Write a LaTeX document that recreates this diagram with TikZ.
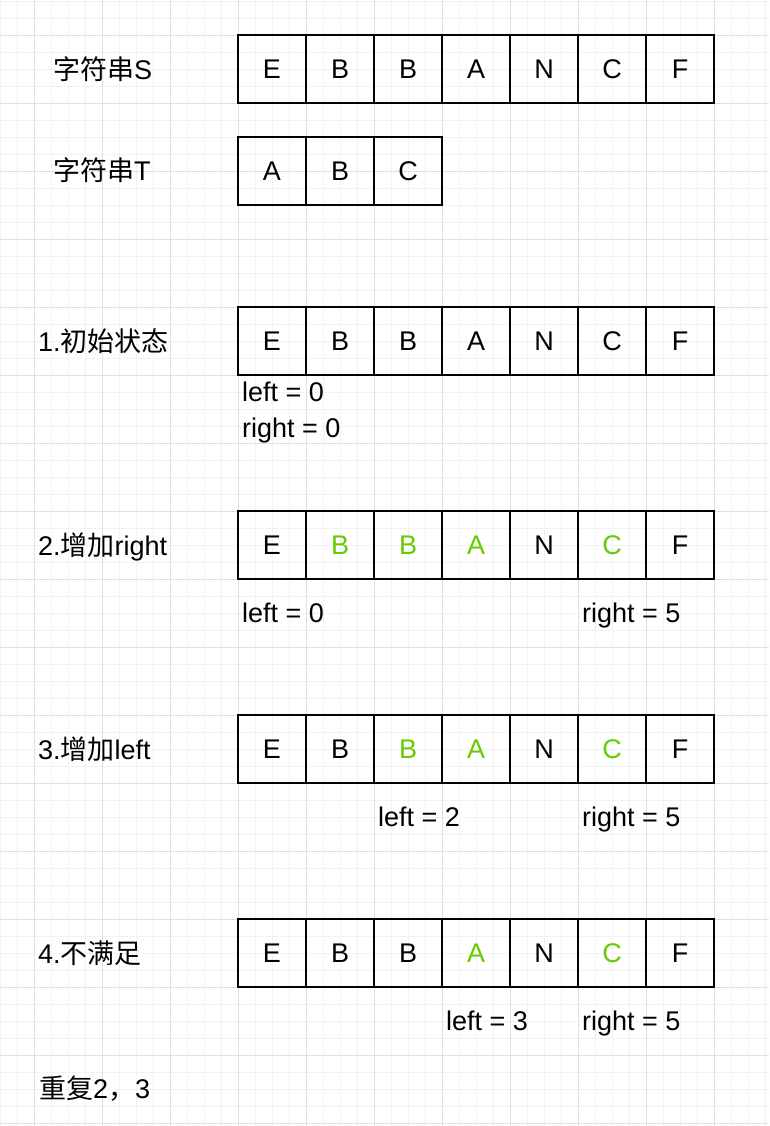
\documentclass[tikz,border=0pt]{standalone}
\usepackage{fontspec}
\setmainfont{Liberation Sans}
\newfontfamily\cjk{Noto Sans CJK SC}
\usetikzlibrary{positioning}

\definecolor{hitgreen}{RGB}{102,204,0}
\definecolor{minorgrid}{RGB}{242,242,242}
\definecolor{majorgrid}{RGB}{224,224,224}

\tikzset{
  cell/.style={draw, line width=1.4pt, minimum width=68pt, minimum height=68pt,
    inner sep=0pt, font=\fontsize{27}{31}\selectfont},
  hit/.style={cell, text=hitgreen},
  lbl/.style={anchor=base west, inner sep=0pt, font=\fontsize{27}{31}\selectfont}
}

\begin{document}
\begin{tikzpicture}[x=1pt,y=-1pt]
\useasboundingbox (0,0) rectangle (769,1126);
\fill[white] (0,0) rectangle (769,1126);

% grid
\foreach \gx in {0,17,...,769} \draw[minorgrid,line width=0.8pt] (\gx,0) -- (\gx,1126);
\foreach \gy in {1,18,...,1126} \draw[minorgrid,line width=0.8pt] (0,\gy) -- (769,\gy);
\foreach \gx in {34,102,...,769} \draw[majorgrid,line width=0.9pt] (\gx,0) -- (\gx,1126);
\foreach \gy in {35,103,...,1126} \draw[majorgrid,line width=0.9pt] (0,\gy) -- (769,\gy);

% string S
\node[lbl] (labS) at (53,80) {{\cjk 字符串}S};
\node[cell] (s1) at (272,69) {E};
\node[cell] (s2) at (340,69) {B};
\node[cell] (s3) at (408,69) {B};
\node[cell] (s4) at (476,69) {A};
\node[cell] (s5) at (544,69) {N};
\node[cell] (s6) at (612,69) {C};
\node[cell] (s7) at (680,69) {F};

% string T
\node[lbl] (labT) at (53,181) {{\cjk 字符串}T};
\node[cell] (t1) at (272,171) {A};
\node[cell] (t2) at (340,171) {B};
\node[cell] (t3) at (408,171) {C};

% 1
\node[lbl] (lab1) at (38,351) {1.{\cjk 初始状态}};
\node[cell] (a1) at (272,341) {E};
\node[cell] (a2) at (340,341) {B};
\node[cell] (a3) at (408,341) {B};
\node[cell] (a4) at (476,341) {A};
\node[cell] (a5) at (544,341) {N};
\node[cell] (a6) at (612,341) {C};
\node[cell] (a7) at (680,341) {F};
\node[lbl] (aleft) at (242,401) {left = 0};
\node[lbl] (aright) at (242,437) {right = 0};

% 2
\node[lbl] (lab2) at (38,555) {2.{\cjk 增加}right};
\node[cell] (b1) at (272,545) {E};
\node[hit] (b2) at (340,545) {B};
\node[hit] (b3) at (408,545) {B};
\node[hit] (b4) at (476,545) {A};
\node[cell] (b5) at (544,545) {N};
\node[hit] (b6) at (612,545) {C};
\node[cell] (b7) at (680,545) {F};
\node[lbl] (bleft) at (242,622) {left = 0};
\node[lbl] (bright) at (582,622) {right = 5};

% 3
\node[lbl] (lab3) at (38,759) {3.{\cjk 增加}left};
\node[cell] (c1) at (272,749) {E};
\node[cell] (c2) at (340,749) {B};
\node[hit] (c3) at (408,749) {B};
\node[hit] (c4) at (476,749) {A};
\node[cell] (c5) at (544,749) {N};
\node[hit] (c6) at (612,749) {C};
\node[cell] (c7) at (680,749) {F};
\node[lbl] (cleft) at (378,826) {left = 2};
\node[lbl] (cright) at (582,826) {right = 5};

% 4
\node[lbl] (lab4) at (38,963) {4.{\cjk 不满足}};
\node[cell] (d1) at (272,953) {E};
\node[cell] (d2) at (340,953) {B};
\node[cell] (d3) at (408,953) {B};
\node[hit] (d4) at (476,953) {A};
\node[cell] (d5) at (544,953) {N};
\node[hit] (d6) at (612,953) {C};
\node[cell] (d7) at (680,953) {F};
\node[lbl] (dleft) at (446,1030) {left = 3};
\node[lbl] (dright) at (582,1030) {right = 5};

\node[lbl] (again) at (39,1098) {{\cjk 重复}2{\cjk ，}3};
\end{tikzpicture}
\end{document}
